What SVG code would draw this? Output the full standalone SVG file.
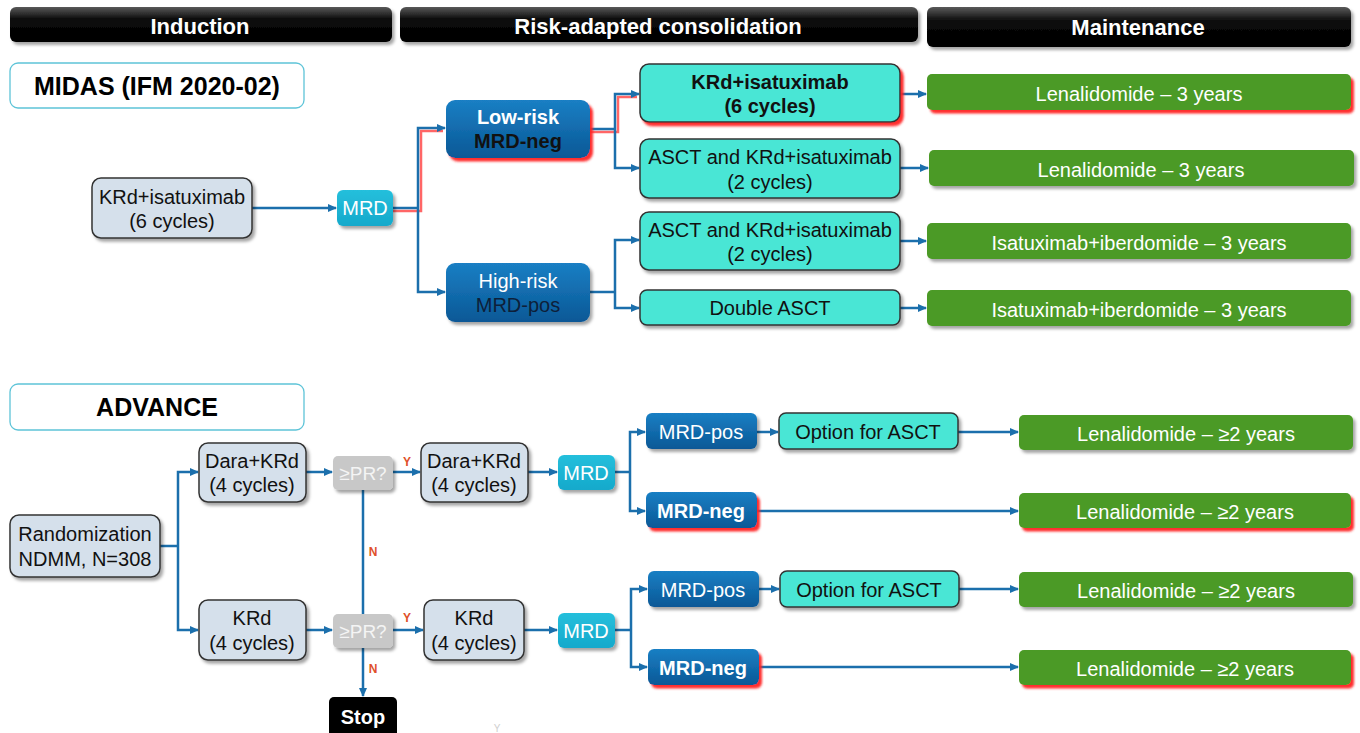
<svg xmlns="http://www.w3.org/2000/svg" width="1360" height="733" viewBox="0 0 1360 733">
<defs>
<linearGradient id="hdr" x1="0" y1="0" x2="0" y2="1">
<stop offset="0" stop-color="#5a5a5a"/><stop offset="0.35" stop-color="#0a0a0a"/><stop offset="1" stop-color="#000"/>
</linearGradient>
<linearGradient id="dblue" x1="0" y1="0" x2="0" y2="1">
<stop offset="0" stop-color="#1a7fc4"/><stop offset="1" stop-color="#0a5896"/>
</linearGradient>
<linearGradient id="cyan" x1="0" y1="0" x2="0" y2="1">
<stop offset="0" stop-color="#25bfdc"/><stop offset="1" stop-color="#15a9cb"/>
</linearGradient>
<filter id="sh" x="-10%" y="-20%" width="130%" height="160%">
<feDropShadow dx="2.5" dy="3" stdDeviation="1.8" flood-color="#000" flood-opacity="0.35"/>
</filter>
<filter id="rsh" x="-10%" y="-20%" width="130%" height="160%">
<feDropShadow dx="3" dy="3.5" stdDeviation="1.2" flood-color="#ff2020" flood-opacity="0.95"/>
</filter>
<marker id="ar" markerUnits="userSpaceOnUse" markerWidth="9" markerHeight="8" refX="8" refY="4" orient="auto">
<path d="M0,0 L9,4 L0,8 z" fill="#1b6fac"/>
</marker>
<style>
text{font-family:"Liberation Sans",Arial,sans-serif;text-anchor:middle}
.hb{fill:url(#hdr);filter:url(#sh)}
.ht{fill:#fff;font-size:22px;font-weight:bold}
.title{fill:#fff;stroke:#5ec4d8;stroke-width:1.3}
.tt{fill:#000;font-size:25px;font-weight:bold}
.gb{fill:#d5e0eb;stroke:#333;stroke-width:1.5;filter:url(#sh)}
.db{fill:url(#dblue);filter:url(#sh)}
.dbr{fill:url(#dblue);filter:url(#rsh)}
.cy{fill:url(#cyan);filter:url(#sh)}
.tl{fill:#4ae6d5;stroke:#333;stroke-width:1.5;filter:url(#sh)}
.tlr{fill:#4ae6d5;stroke:#333;stroke-width:1.5;filter:url(#rsh)}
.gr{fill:#4b9a26;filter:url(#sh)}
.grr{fill:#4b9a26;filter:url(#rsh)}
.pr{fill:#c8c8c8;filter:url(#sh)}
.t{font-size:20px;fill:#111}
.tb{font-size:20px;fill:#111;font-weight:bold}
.tw{font-size:20px;fill:#fff}
.twb{font-size:20px;fill:#fff;font-weight:bold}
.tn{font-size:20px;fill:#0d1f3a}
.tp{font-size:19px;fill:#f4f4f4}
.lab{font-size:12px;font-weight:bold;fill:#e0502a}
.c{fill:none;stroke:#1b6fac;stroke-width:2.5}
.ca{fill:none;stroke:#1b6fac;stroke-width:2.5;marker-end:url(#ar)}
.red{fill:none;stroke:#ff4040;stroke-width:2.5;opacity:0.8}
</style>
</defs>
<rect width="1360" height="733" fill="#fff"/>

<g id="headers">
<rect class="hb" x="10" y="7" width="382" height="35" rx="6"/>
<text class="ht" x="200" y="34">Induction</text>
<rect class="hb" x="400" y="7" width="518" height="35" rx="6"/>
<text class="ht" x="658" y="34">Risk-adapted consolidation</text>
<rect class="hb" x="927" y="7" width="424" height="40" rx="6"/>
<text class="ht" x="1138" y="35">Maintenance</text>
</g>

<g id="connectors">
<path class="red" d="M393,211 H421 V131 H443"/>
<path class="red" d="M590,132 H618 V97 H637"/>
<path class="ca" d="M252,208 H336"/>
<path class="c" d="M393,208 H418"/>
<path class="ca" d="M418,208 V128 H445"/>
<path class="ca" d="M418,208 V292 H445"/>
<path class="c" d="M590,129 H615"/>
<path class="ca" d="M615,129 V94 H639"/>
<path class="ca" d="M615,129 V168 H639"/>
<path class="c" d="M590,292 H615"/>
<path class="ca" d="M615,292 V240 H639"/>
<path class="ca" d="M615,292 V308 H639"/>
<path class="ca" d="M900,94 H926"/>
<path class="ca" d="M900,168 H928"/>
<path class="ca" d="M900,241 H926"/>
<path class="ca" d="M900,308 H926"/>

<path class="c" d="M160,546 H178"/>
<path class="ca" d="M178,546 V472 H198"/>
<path class="ca" d="M178,546 V630 H198"/>
<path class="ca" d="M306,472 H332"/>
<path class="ca" d="M306,630 H332"/>
<path class="ca" d="M393,472 H420"/>
<path class="ca" d="M393,630 H423"/>
<path class="c" d="M363,490 V614"/>
<path class="ca" d="M363,648 V696"/>
<path class="ca" d="M528,472 H557"/>
<path class="ca" d="M524,630 H557"/>
<path class="c" d="M615,472 H630"/>
<path class="ca" d="M630,472 V432 H645"/>
<path class="ca" d="M630,472 V511 H645"/>
<path class="c" d="M615,630 H631"/>
<path class="ca" d="M631,630 V589 H647"/>
<path class="ca" d="M631,630 V667 H647"/>
<path class="ca" d="M757,432 H778"/>
<path class="ca" d="M759,589 H779"/>
<path class="ca" d="M958,432 H1018"/>
<path class="ca" d="M959,589 H1018"/>
<path class="ca" d="M757,511 H1018"/>
<path class="ca" d="M759,667 H1018"/>
<text class="lab" x="407" y="466">Y</text>
<text class="lab" x="407" y="622">Y</text>
<text class="lab" x="373" y="556">N</text>
<text class="lab" x="373" y="673">N</text>
</g>

<g id="midas-title">
<rect class="title" x="10" y="63" width="294" height="45" rx="8"/>
<text class="tt" x="157" y="95">MIDAS (IFM 2020-02)</text>
</g>
<g id="krd-isa-induction">
<rect class="gb" x="92" y="178" width="160" height="60" rx="9"/>
<text class="t" x="172" y="204">KRd+isatuximab</text>
<text class="t" x="172" y="228">(6 cycles)</text>
</g>
<g id="mrd1">
<rect class="cy" x="337" y="190" width="56" height="36" rx="6"/>
<text class="tw" x="365" y="215">MRD</text>
</g>
<g id="low-risk">
<rect class="dbr" x="446" y="100" width="144" height="58" rx="9"/>
<text class="twb" x="518" y="124">Low-risk</text>
<text class="tb" x="518" y="148">MRD-neg</text>
</g>
<g id="high-risk">
<rect class="db" x="446" y="263" width="144" height="59" rx="9"/>
<text class="tw" x="518" y="288">High-risk</text>
<text class="tn" x="518" y="312">MRD-pos</text>
</g>
<g id="cons1">
<rect class="tlr" x="640" y="64" width="260" height="58" rx="9"/>
<text class="tb" x="770" y="89">KRd+isatuximab</text>
<text class="tb" x="770" y="113">(6 cycles)</text>
</g>
<g id="cons2">
<rect class="tl" x="640" y="139" width="260" height="59" rx="9"/>
<text class="t" x="770" y="164">ASCT and KRd+isatuximab</text>
<text class="t" x="770" y="189">(2 cycles)</text>
</g>
<g id="cons3">
<rect class="tl" x="640" y="212" width="260" height="58" rx="9"/>
<text class="t" x="770" y="237">ASCT and KRd+isatuximab</text>
<text class="t" x="770" y="261">(2 cycles)</text>
</g>
<g id="cons4">
<rect class="tl" x="640" y="290" width="260" height="35" rx="7"/>
<text class="t" x="770" y="315">Double ASCT</text>
</g>
<g id="maint1">
<rect class="grr" x="927" y="74" width="424" height="36" rx="5"/>
<text class="tw" x="1139" y="101">Lenalidomide – 3 years</text>
</g>
<g id="maint2">
<rect class="gr" x="929" y="150" width="425" height="36" rx="5"/>
<text class="tw" x="1141" y="177">Lenalidomide – 3 years</text>
</g>
<g id="maint3">
<rect class="gr" x="927" y="223" width="424" height="36" rx="5"/>
<text class="tw" x="1139" y="250">Isatuximab+iberdomide – 3 years</text>
</g>
<g id="maint4">
<rect class="gr" x="927" y="290" width="424" height="36" rx="5"/>
<text class="tw" x="1139" y="317">Isatuximab+iberdomide – 3 years</text>
</g>

<g id="advance-title">
<rect class="title" x="10" y="384" width="294" height="46" rx="8"/>
<text class="tt" x="157" y="416">ADVANCE</text>
</g>
<g id="randomization">
<rect class="gb" x="10" y="515" width="150" height="62" rx="9"/>
<text class="t" x="85" y="541">Randomization</text>
<text class="t" x="85" y="566">NDMM, N=308</text>
</g>
<g id="dara-krd-1">
<rect class="gb" x="199" y="443" width="107" height="59" rx="9"/>
<text class="t" x="252" y="468">Dara+KRd</text>
<text class="t" x="252" y="492">(4 cycles)</text>
</g>
<g id="krd-1">
<rect class="gb" x="199" y="600" width="107" height="60" rx="9"/>
<text class="t" x="252" y="625">KRd</text>
<text class="t" x="252" y="650">(4 cycles)</text>
</g>
<g id="pr1">
<rect class="pr" x="333" y="456" width="60" height="34" rx="5"/>
<text class="tp" x="363" y="480">≥PR?</text>
</g>
<g id="pr2">
<rect class="pr" x="333" y="614" width="60" height="34" rx="5"/>
<text class="tp" x="363" y="638">≥PR?</text>
</g>
<g id="dara-krd-2">
<rect class="gb" x="421" y="443" width="107" height="59" rx="9"/>
<text class="t" x="474" y="468">Dara+KRd</text>
<text class="t" x="474" y="492">(4 cycles)</text>
</g>
<g id="krd-2">
<rect class="gb" x="424" y="600" width="100" height="60" rx="9"/>
<text class="t" x="474" y="625">KRd</text>
<text class="t" x="474" y="650">(4 cycles)</text>
</g>
<g id="stop">
<rect x="329" y="697" width="68" height="44" rx="5" fill="#000"/>
<text class="twb" x="363" y="724">Stop</text>
</g>
<g id="mrd2">
<rect class="cy" x="558" y="455" width="57" height="35" rx="6"/>
<text class="tw" x="586" y="480">MRD</text>
</g>
<g id="mrd3">
<rect class="cy" x="558" y="613" width="57" height="35" rx="6"/>
<text class="tw" x="586" y="638">MRD</text>
</g>
<g id="mrd-pos-1">
<rect class="db" x="646" y="413" width="111" height="36" rx="6"/>
<text class="tw" x="701" y="439">MRD-pos</text>
</g>
<g id="mrd-neg-1">
<rect class="dbr" x="646" y="492" width="111" height="36" rx="6"/>
<text class="twb" x="701" y="518">MRD-neg</text>
</g>
<g id="mrd-pos-2">
<rect class="db" x="648" y="571" width="111" height="36" rx="6"/>
<text class="tw" x="703" y="597">MRD-pos</text>
</g>
<g id="mrd-neg-2">
<rect class="dbr" x="648" y="649" width="111" height="36" rx="6"/>
<text class="twb" x="703" y="675">MRD-neg</text>
</g>
<g id="asct-opt-1">
<rect class="tl" x="779" y="413" width="179" height="36" rx="7"/>
<text class="t" x="868" y="439">Option for ASCT</text>
</g>
<g id="asct-opt-2">
<rect class="tl" x="780" y="571" width="179" height="36" rx="7"/>
<text class="t" x="869" y="597">Option for ASCT</text>
</g>
<g id="maint5">
<rect class="gr" x="1019" y="415" width="334" height="35" rx="5"/>
<text class="tw" x="1186" y="441">Lenalidomide – ≥2 years</text>
</g>
<g id="maint6">
<rect class="grr" x="1019" y="493" width="332" height="35" rx="5"/>
<text class="tw" x="1185" y="519">Lenalidomide – ≥2 years</text>
</g>
<g id="maint7">
<rect class="gr" x="1019" y="572" width="334" height="35" rx="5"/>
<text class="tw" x="1186" y="598">Lenalidomide – ≥2 years</text>
</g>
<g id="maint8">
<rect class="grr" x="1019" y="650" width="332" height="35" rx="5"/>
<text class="tw" x="1185" y="676">Lenalidomide – ≥2 years</text>
</g>
<text x="497" y="732" style="font-size:10px;fill:#cfcfcf">Y</text>
</svg>
